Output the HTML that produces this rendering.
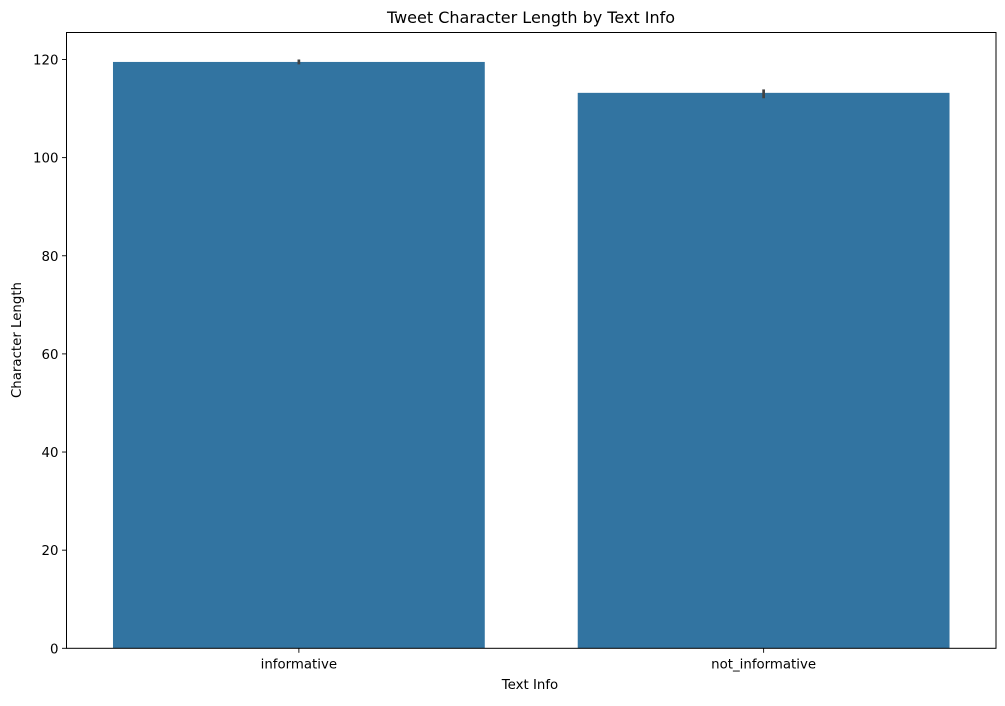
<!DOCTYPE html>
<html><head><meta charset="utf-8"><style>
body{margin:0;background:#fff;}
svg text{font-family:"DejaVu Sans","Liberation Sans",sans-serif;}
</style></head><body>
<svg id="chart" width="1005" height="701" xmlns="http://www.w3.org/2000/svg">
<rect width="1005" height="701" fill="#fff"/>
<g id="bars"></g>
<g id="axes"></g>
<text x="531" y="23" text-anchor="middle" font-size="16">Tweet Character Length by Text Info</text>
<text x="530" y="689" text-anchor="middle" font-size="13.33">Text Info</text>
<text transform="translate(21,340) rotate(-90)" text-anchor="middle" font-size="13.33">Character Length</text>
</svg>
<script>
const categories = ["informative", "not_informative"];
const values = [119.5, 113.2];
const errLow = [119.0, 112.1];
const errHigh = [120.0, 113.9];
const yTicks = [0, 20, 40, 60, 80, 100, 120];

const L = 66.5, R = 996, T = 32.5, B = 648.3;
const yMax = 125.5;
function y(v){ return B - v * (B - T) / yMax; }
const band = (R - L) / categories.length;
function xc(i){ return L + band * (i + 0.5); }
const NS = "http://www.w3.org/2000/svg";
function mk(tag, attrs, parent){ const e = document.createElementNS(NS, tag); for (const k in attrs) e.setAttribute(k, attrs[k]); parent.appendChild(e); return e; }
const bars = document.getElementById('bars');
const axes = document.getElementById('axes');
const bw = band * 0.8;
categories.forEach((c, i) => {
  const r = mk('rect', {x: xc(i) - bw/2, y: y(values[i]), width: bw, height: B - y(values[i]), fill: '#3274a1'}, bars);
  
  
  const e = mk('line', {x1: xc(i), x2: xc(i), y1: y(errLow[i]), y2: y(errHigh[i]), stroke: '#424242', 'stroke-width': 2.7}, bars);
  
  
  mk('line', {x1: xc(i), x2: xc(i), y1: B, y2: B + 4.5, stroke: '#000', 'stroke-width': 0.9}, axes);
  const t = mk('text', {x: xc(i), y: B + 20, 'text-anchor': 'middle', 'font-size': 13.33}, axes);
  t.textContent = c;
  
  
});
yTicks.forEach(v => {
  mk('line', {x1: L - 4.5, x2: L, y1: y(v), y2: y(v), stroke: '#000', 'stroke-width': 0.9}, axes);
  const t = mk('text', {x: L - 8, y: y(v) + 5, 'text-anchor': 'end', 'font-size': 13.33}, axes);
  t.textContent = v;
  
  
});
const frame = mk('rect', {x: L, y: T, width: R - L, height: B - T, fill: 'none', stroke: '#000', 'stroke-width': 1}, axes);


</script>
</body></html>
